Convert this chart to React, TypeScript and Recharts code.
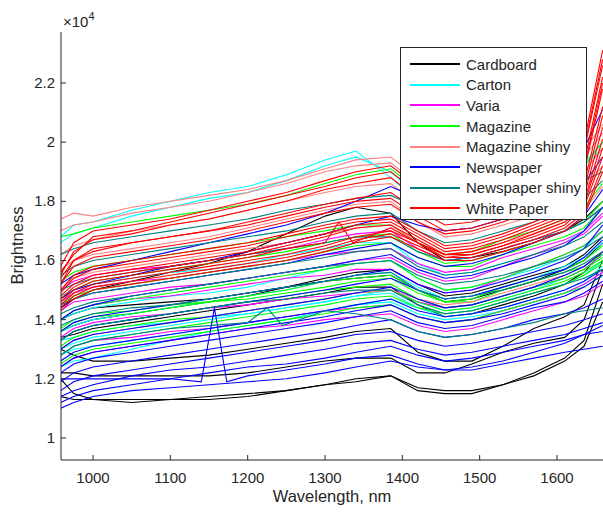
import { LineChart, Line, XAxis, YAxis, Legend } from 'recharts';

// wavelengths (nm) shared by most spectra
const WL = [958, 975, 1000, 1050, 1100, 1150, 1200, 1250, 1300, 1340, 1385, 1420, 1455, 1490, 1530, 1570, 1610, 1635, 1659];

// brightness values, in units of 1e4
const cardboard = [
  [1.44, 1.47, 1.50, 1.53, 1.56, 1.59, 1.63, 1.69, 1.75, 1.78, 1.76, 1.66, 1.60, 1.61, 1.63, 1.66, 1.70, 1.74, 1.80],
  [1.36, 1.38, 1.40, 1.42, 1.44, 1.46, 1.48, 1.51, 1.54, 1.56, 1.57, 1.52, 1.48, 1.49, 1.52, 1.55, 1.58, 1.62, 1.68],
  [1.34, 1.35, 1.37, 1.39, 1.41, 1.43, 1.45, 1.47, 1.49, 1.51, 1.51, 1.45, 1.41, 1.42, 1.45, 1.48, 1.52, 1.56, 1.63],
  [1.30, 1.28, 1.26, 1.26, 1.27, 1.28, 1.30, 1.32, 1.34, 1.36, 1.37, 1.29, 1.26, 1.26, 1.31, 1.37, 1.41, 1.45, 1.60],
  [1.22, 1.22, 1.21, 1.21, 1.21, 1.21, 1.22, 1.24, 1.26, 1.27, 1.27, 1.22, 1.22, 1.25, 1.29, 1.32, 1.34, 1.40, 1.57],
  [1.20, 1.15, 1.13, 1.13, 1.13, 1.14, 1.15, 1.16, 1.18, 1.20, 1.21, 1.17, 1.16, 1.16, 1.18, 1.22, 1.27, 1.33, 1.52],
  [1.14, 1.13, 1.13, 1.12, 1.13, 1.13, 1.14, 1.16, 1.18, 1.19, 1.21, 1.16, 1.15, 1.15, 1.18, 1.21, 1.26, 1.31, 1.46],
  [1.40, 1.42, 1.44, 1.45, 1.46, 1.47, 1.49, 1.51, 1.53, 1.54, 1.55, 1.50, 1.46, 1.47, 1.50, 1.53, 1.57, 1.60, 1.66],
];

const carton = [
  [1.68, 1.72, 1.73, 1.77, 1.80, 1.83, 1.85, 1.89, 1.94, 1.97, 1.88, 1.80, 1.75, 1.77, 1.80, 1.83, 1.87, 1.92, 1.98],
  [1.66, 1.69, 1.71, 1.75, 1.78, 1.81, 1.83, 1.87, 1.92, 1.95, 1.90, 1.82, 1.77, 1.78, 1.81, 1.84, 1.88, 1.93, 2.00],
  [1.48, 1.50, 1.52, 1.54, 1.56, 1.57, 1.59, 1.62, 1.64, 1.66, 1.66, 1.59, 1.55, 1.56, 1.59, 1.62, 1.66, 1.70, 1.78],
  [1.40, 1.42, 1.44, 1.46, 1.48, 1.49, 1.51, 1.54, 1.57, 1.59, 1.60, 1.54, 1.50, 1.51, 1.54, 1.57, 1.61, 1.64, 1.70],
  [1.36, 1.38, 1.40, 1.42, 1.44, 1.46, 1.48, 1.50, 1.53, 1.55, 1.56, 1.51, 1.47, 1.48, 1.51, 1.54, 1.58, 1.61, 1.66],
  [1.33, 1.34, 1.36, 1.38, 1.39, 1.41, 1.42, 1.44, 1.46, 1.48, 1.49, 1.44, 1.42, 1.43, 1.46, 1.49, 1.52, 1.55, 1.60],
  [1.30, 1.32, 1.34, 1.36, 1.38, 1.40, 1.42, 1.44, 1.46, 1.48, 1.50, 1.46, 1.43, 1.44, 1.47, 1.50, 1.54, 1.57, 1.62],
  [1.28, 1.30, 1.31, 1.33, 1.35, 1.37, 1.39, 1.41, 1.43, 1.45, 1.47, 1.44, 1.41, 1.42, 1.44, 1.47, 1.50, 1.53, 1.58],
  [1.24, 1.26, 1.27, 1.30, 1.33, 1.36, 1.38, 1.40, 1.43, 1.45, 1.46, 1.42, 1.40, 1.41, 1.43, 1.46, 1.49, 1.52, 1.56],
];

const varia = [
  [1.50, 1.53, 1.55, 1.57, 1.58, 1.60, 1.62, 1.64, 1.67, 1.69, 1.70, 1.64, 1.60, 1.61, 1.64, 1.67, 1.70, 1.73, 1.78],
  [1.46, 1.49, 1.51, 1.53, 1.54, 1.56, 1.58, 1.60, 1.62, 1.63, 1.64, 1.59, 1.56, 1.57, 1.61, 1.64, 1.67, 1.70, 1.76],
  [1.43, 1.46, 1.47, 1.49, 1.51, 1.52, 1.54, 1.56, 1.58, 1.60, 1.61, 1.56, 1.53, 1.54, 1.58, 1.62, 1.66, 1.69, 1.75],
  [1.40, 1.43, 1.45, 1.47, 1.48, 1.50, 1.52, 1.54, 1.55, 1.57, 1.57, 1.52, 1.49, 1.50, 1.54, 1.58, 1.62, 1.65, 1.70],
  [1.34, 1.37, 1.39, 1.41, 1.42, 1.44, 1.45, 1.47, 1.48, 1.49, 1.50, 1.46, 1.44, 1.45, 1.48, 1.51, 1.54, 1.57, 1.62],
  [1.28, 1.31, 1.33, 1.34, 1.36, 1.37, 1.39, 1.41, 1.43, 1.44, 1.45, 1.41, 1.39, 1.40, 1.43, 1.46, 1.49, 1.52, 1.56],
  [1.24, 1.27, 1.29, 1.31, 1.33, 1.35, 1.37, 1.38, 1.40, 1.41, 1.42, 1.38, 1.36, 1.37, 1.40, 1.43, 1.46, 1.48, 1.52],
];

const magazine = [
  [1.68, 1.69, 1.71, 1.73, 1.75, 1.77, 1.79, 1.82, 1.86, 1.89, 1.91, 1.84, 1.78, 1.79, 1.82, 1.85, 1.88, 1.92, 2.00],
  [1.53, 1.56, 1.58, 1.60, 1.62, 1.64, 1.66, 1.68, 1.70, 1.72, 1.72, 1.66, 1.62, 1.63, 1.67, 1.70, 1.74, 1.78, 1.86],
  [1.47, 1.50, 1.53, 1.55, 1.57, 1.59, 1.61, 1.63, 1.66, 1.68, 1.69, 1.63, 1.59, 1.60, 1.63, 1.66, 1.70, 1.73, 1.80],
  [1.45, 1.48, 1.50, 1.52, 1.54, 1.56, 1.58, 1.60, 1.63, 1.65, 1.66, 1.61, 1.58, 1.58, 1.62, 1.65, 1.68, 1.71, 1.78],
  [1.40, 1.43, 1.45, 1.47, 1.49, 1.51, 1.53, 1.55, 1.57, 1.59, 1.60, 1.54, 1.50, 1.51, 1.54, 1.58, 1.62, 1.65, 1.70],
  [1.37, 1.40, 1.42, 1.43, 1.45, 1.46, 1.48, 1.50, 1.53, 1.54, 1.55, 1.50, 1.46, 1.47, 1.51, 1.54, 1.57, 1.60, 1.65],
  [1.36, 1.39, 1.41, 1.42, 1.44, 1.46, 1.47, 1.49, 1.51, 1.53, 1.54, 1.49, 1.46, 1.46, 1.50, 1.53, 1.56, 1.58, 1.62],
  [1.33, 1.36, 1.38, 1.40, 1.42, 1.44, 1.46, 1.48, 1.50, 1.51, 1.52, 1.47, 1.44, 1.45, 1.48, 1.51, 1.54, 1.57, 1.61],
  [1.31, 1.34, 1.36, 1.38, 1.40, 1.41, 1.43, 1.45, 1.47, 1.49, 1.50, 1.46, 1.43, 1.44, 1.47, 1.50, 1.53, 1.56, 1.60],
  [1.28, 1.31, 1.33, 1.35, 1.37, 1.39, 1.41, 1.43, 1.45, 1.47, 1.48, 1.44, 1.42, 1.43, 1.46, 1.49, 1.52, 1.55, 1.59],
  [1.25, 1.28, 1.30, 1.32, 1.34, 1.36, 1.38, 1.40, 1.42, 1.44, 1.45, 1.41, 1.39, 1.40, 1.43, 1.46, 1.49, 1.51, 1.55],
];

const magazineShiny = [
  [1.74, 1.76, 1.75, 1.78, 1.80, 1.82, 1.84, 1.87, 1.91, 1.94, 1.95, 1.88, 1.82, 1.83, 1.86, 1.89, 1.93, 1.97, 2.06],
  [1.70, 1.72, 1.73, 1.76, 1.78, 1.80, 1.83, 1.86, 1.90, 1.92, 1.93, 1.86, 1.80, 1.81, 1.84, 1.87, 1.91, 1.95, 2.03],
  [1.62, 1.65, 1.67, 1.70, 1.72, 1.74, 1.77, 1.80, 1.83, 1.85, 1.86, 1.79, 1.74, 1.75, 1.78, 1.81, 1.85, 1.90, 1.98],
  [1.57, 1.60, 1.62, 1.64, 1.66, 1.68, 1.71, 1.74, 1.77, 1.79, 1.80, 1.73, 1.68, 1.69, 1.72, 1.75, 1.79, 1.84, 1.92],
  [1.50, 1.54, 1.56, 1.58, 1.60, 1.62, 1.64, 1.66, 1.69, 1.71, 1.72, 1.66, 1.62, 1.63, 1.66, 1.69, 1.73, 1.77, 1.85],
  [1.30, 1.33, 1.35, 1.37, 1.39, 1.41, 1.43, 1.45, 1.47, 1.49, 1.50, 1.47, 1.45, 1.46, 1.49, 1.52, 1.55, 1.58, 1.63],
];

const newspaper = [
  [1.52, 1.55, 1.57, 1.60, 1.63, 1.66, 1.69, 1.72, 1.76, 1.80, 1.85, 1.81, 1.78, 1.79, 1.82, 1.86, 1.91, 1.98, 2.11],
  [1.47, 1.50, 1.52, 1.55, 1.58, 1.60, 1.63, 1.66, 1.69, 1.72, 1.75, 1.72, 1.70, 1.71, 1.74, 1.77, 1.81, 1.86, 1.95],
  [1.44, 1.47, 1.49, 1.51, 1.53, 1.55, 1.57, 1.59, 1.62, 1.64, 1.66, 1.61, 1.58, 1.59, 1.62, 1.66, 1.70, 1.75, 1.84],
  [1.40, 1.43, 1.45, 1.48, 1.50, 1.52, 1.54, 1.56, 1.58, 1.60, 1.62, 1.57, 1.54, 1.55, 1.58, 1.61, 1.65, 1.70, 1.78],
  [1.36, 1.39, 1.41, 1.43, 1.45, 1.47, 1.49, 1.51, 1.53, 1.55, 1.57, 1.52, 1.49, 1.50, 1.53, 1.56, 1.60, 1.64, 1.72],
  [1.33, 1.36, 1.38, 1.40, 1.42, 1.44, 1.46, 1.48, 1.50, 1.52, 1.54, 1.50, 1.47, 1.48, 1.51, 1.54, 1.57, 1.61, 1.67],
  [1.30, 1.33, 1.35, 1.37, 1.39, 1.41, 1.43, 1.45, 1.47, 1.49, 1.51, 1.47, 1.44, 1.45, 1.48, 1.51, 1.55, 1.58, 1.63],
  [1.26, 1.29, 1.31, 1.33, 1.35, 1.37, 1.39, 1.41, 1.43, 1.45, 1.47, 1.43, 1.41, 1.42, 1.44, 1.47, 1.50, 1.53, 1.57],
  [1.24, 1.27, 1.29, 1.31, 1.33, 1.35, 1.37, 1.39, 1.41, 1.43, 1.45, 1.41, 1.39, 1.40, 1.42, 1.45, 1.48, 1.51, 1.55],
  [1.22, 1.25, 1.27, 1.29, 1.31, 1.33, 1.35, 1.37, 1.39, 1.41, 1.43, 1.39, 1.37, 1.38, 1.41, 1.44, 1.46, 1.49, 1.53],
  [1.19, 1.22, 1.24, 1.26, 1.28, 1.30, 1.32, 1.34, 1.36, 1.38, 1.40, 1.36, 1.34, 1.35, 1.37, 1.40, 1.42, 1.44, 1.47],
  [1.16, 1.19, 1.21, 1.23, 1.25, 1.27, 1.29, 1.31, 1.33, 1.35, 1.36, 1.33, 1.31, 1.32, 1.34, 1.36, 1.38, 1.40, 1.42],
  [1.14, 1.16, 1.18, 1.21, 1.23, 1.24, 1.26, 1.28, 1.30, 1.32, 1.33, 1.30, 1.28, 1.29, 1.31, 1.33, 1.35, 1.37, 1.39],
  [1.12, 1.14, 1.16, 1.18, 1.20, 1.22, 1.24, 1.25, 1.27, 1.29, 1.31, 1.28, 1.26, 1.27, 1.29, 1.31, 1.33, 1.35, 1.36],
  [1.10, 1.12, 1.14, 1.16, 1.17, 1.18, 1.19, 1.20, 1.22, 1.24, 1.26, 1.24, 1.23, 1.23, 1.25, 1.27, 1.29, 1.30, 1.31],
];

const newspaperShiny = [
  [1.62, 1.64, 1.66, 1.68, 1.70, 1.72, 1.74, 1.77, 1.79, 1.81, 1.82, 1.78, 1.74, 1.75, 1.78, 1.81, 1.84, 1.87, 1.90],
  [1.55, 1.58, 1.60, 1.62, 1.64, 1.66, 1.68, 1.70, 1.73, 1.75, 1.76, 1.70, 1.66, 1.67, 1.70, 1.73, 1.77, 1.81, 1.87],
  [1.50, 1.52, 1.54, 1.56, 1.58, 1.60, 1.62, 1.64, 1.66, 1.68, 1.68, 1.63, 1.60, 1.61, 1.64, 1.67, 1.70, 1.73, 1.78],
  [1.45, 1.47, 1.49, 1.51, 1.53, 1.55, 1.57, 1.59, 1.61, 1.63, 1.64, 1.58, 1.55, 1.56, 1.59, 1.62, 1.65, 1.68, 1.73],
  [1.42, 1.44, 1.46, 1.48, 1.50, 1.52, 1.54, 1.56, 1.58, 1.59, 1.60, 1.55, 1.52, 1.53, 1.55, 1.58, 1.61, 1.64, 1.68],
  [1.38, 1.40, 1.42, 1.44, 1.45, 1.47, 1.49, 1.51, 1.53, 1.55, 1.56, 1.50, 1.47, 1.48, 1.50, 1.53, 1.56, 1.59, 1.63],
  [1.33, 1.36, 1.38, 1.40, 1.42, 1.44, 1.46, 1.47, 1.49, 1.50, 1.50, 1.45, 1.42, 1.43, 1.46, 1.49, 1.52, 1.54, 1.57],
];

const whitePaper = [
  [1.58, 1.66, 1.70, 1.72, 1.74, 1.77, 1.80, 1.83, 1.87, 1.90, 1.92, 1.85, 1.79, 1.80, 1.83, 1.87, 1.92, 2.00, 2.31],
  [1.56, 1.62, 1.68, 1.70, 1.73, 1.76, 1.79, 1.82, 1.85, 1.88, 1.90, 1.83, 1.78, 1.79, 1.82, 1.86, 1.90, 1.98, 2.28],
  [1.55, 1.63, 1.67, 1.69, 1.72, 1.74, 1.77, 1.80, 1.84, 1.86, 1.88, 1.81, 1.76, 1.77, 1.80, 1.84, 1.89, 1.97, 2.26],
  [1.54, 1.60, 1.63, 1.66, 1.68, 1.70, 1.73, 1.76, 1.79, 1.81, 1.83, 1.77, 1.72, 1.73, 1.76, 1.80, 1.85, 1.93, 2.22],
  [1.52, 1.60, 1.64, 1.66, 1.68, 1.70, 1.72, 1.75, 1.78, 1.80, 1.81, 1.75, 1.70, 1.71, 1.74, 1.78, 1.83, 1.91, 2.20],
  [1.52, 1.58, 1.61, 1.63, 1.65, 1.67, 1.70, 1.73, 1.76, 1.78, 1.79, 1.73, 1.69, 1.70, 1.73, 1.77, 1.82, 1.90, 2.18],
  [1.50, 1.55, 1.58, 1.60, 1.62, 1.64, 1.66, 1.69, 1.72, 1.74, 1.75, 1.70, 1.65, 1.66, 1.69, 1.73, 1.78, 1.86, 2.12],
  [1.49, 1.54, 1.57, 1.59, 1.61, 1.63, 1.65, 1.68, 1.71, 1.73, 1.74, 1.69, 1.64, 1.65, 1.68, 1.72, 1.76, 1.84, 2.09],
  [1.48, 1.52, 1.55, 1.57, 1.59, 1.61, 1.63, 1.66, 1.69, 1.72, 1.73, 1.68, 1.63, 1.64, 1.67, 1.71, 1.75, 1.82, 2.05],
  [1.47, 1.51, 1.54, 1.56, 1.58, 1.60, 1.62, 1.65, 1.68, 1.71, 1.72, 1.67, 1.62, 1.63, 1.66, 1.70, 1.74, 1.80, 2.01],
  [1.45, 1.49, 1.52, 1.54, 1.56, 1.58, 1.60, 1.62, 1.65, 1.68, 1.70, 1.66, 1.61, 1.62, 1.65, 1.68, 1.72, 1.78, 1.95],
  [1.44, 1.48, 1.51, 1.53, 1.55, 1.57, 1.59, 1.61, 1.64, 1.67, 1.69, 1.65, 1.61, 1.61, 1.64, 1.67, 1.71, 1.76, 1.92],
  [1.43, 1.47, 1.50, 1.52, 1.54, 1.56, 1.58, 1.60, 1.63, 1.66, 1.68, 1.64, 1.60, 1.60, 1.63, 1.66, 1.70, 1.75, 1.90],
];

// spectra with a single-sample spike, on their own wavelength grids
const spikeNewsWL = [958, 975, 1000, 1050, 1100, 1140, 1157, 1173, 1200, 1250, 1300, 1340, 1385, 1420, 1455, 1490, 1530, 1570, 1610, 1635, 1659];
const spikeNews = [1.20, 1.20, 1.20, 1.20, 1.20, 1.19, 1.44, 1.19, 1.21, 1.23, 1.25, 1.27, 1.28, 1.25, 1.23, 1.24, 1.26, 1.29, 1.32, 1.35, 1.38];
const spikeShinyWL = [958, 975, 1000, 1050, 1100, 1150, 1200, 1225, 1245, 1300, 1340, 1385, 1420, 1455, 1490, 1530, 1570, 1610, 1635, 1659];
const spikeShiny = [1.28, 1.31, 1.33, 1.35, 1.37, 1.38, 1.39, 1.44, 1.38, 1.43, 1.42, 1.40, 1.36, 1.34, 1.35, 1.37, 1.39, 1.42, 1.43, 1.44];
const spikeWhiteWL = [958, 975, 1000, 1050, 1100, 1150, 1200, 1250, 1300, 1318, 1336, 1385, 1420, 1455, 1490, 1530, 1570, 1610, 1635, 1659];
const spikeWhite = [1.46, 1.50, 1.53, 1.55, 1.57, 1.59, 1.61, 1.64, 1.66, 1.73, 1.66, 1.71, 1.66, 1.62, 1.62, 1.65, 1.69, 1.73, 1.79, 1.98];

const Y_TICKS = [1, 1.2, 1.4, 1.6, 1.8, 2, 2.2];
const X_TICKS = [1000, 1100, 1200, 1300, 1400, 1500, 1600];

const toPts = (wl: number[], v: number[]) => wl.map((x, i) => ({ x, y: v[i] }));

const groups = [
  { name: 'Cardboard', color: '#000000', lines: cardboard.map(v => toPts(WL, v)) },
  { name: 'Carton', color: '#00ffff', lines: carton.map(v => toPts(WL, v)) },
  { name: 'Varia', color: '#ff00ff', lines: varia.map(v => toPts(WL, v)) },
  { name: 'Magazine', color: '#00ff00', lines: magazine.map(v => toPts(WL, v)) },
  { name: 'Magazine shiny', color: '#ff8080', lines: magazineShiny.map(v => toPts(WL, v)) },
  { name: 'Newspaper', color: '#0000ff', lines: [...newspaper.map(v => toPts(WL, v)), toPts(spikeNewsWL, spikeNews)] },
  { name: 'Newspaper shiny', color: '#008080', lines: [...newspaperShiny.map(v => toPts(WL, v)), toPts(spikeShinyWL, spikeShiny)] },
  { name: 'White Paper', color: '#ff0000', lines: [...whitePaper.map(v => toPts(WL, v)), toPts(spikeWhiteWL, spikeWhite)] },
];

const FONT = '"Liberation Sans", Arial, Helvetica, sans-serif';
const INK = '#262626';

const YTick = ({ x, y, payload }: any) => (
  <g>
    <line x1={x} x2={x + 5} y1={y} y2={y} stroke={INK} />
    <text x={x - 6} y={y} dy={5} textAnchor="end" fontSize={15} fontFamily={FONT} fill={INK}>
      {payload.value}
    </text>
  </g>
);

const XTick = ({ x, y, payload }: any) => (
  <g>
    <line x1={x} x2={x} y1={y} y2={y - 5} stroke={INK} />
    <text x={x} y={y + 23} textAnchor="middle" fontSize={15} fontFamily={FONT} fill={INK}>
      {payload.value}
    </text>
  </g>
);

const LegendBox = () => (
  <div style={styles.legend}>
    {groups.map(g => (
      <div key={g.name} style={styles.legendRow}>
        <span style={{ ...styles.swatch, background: g.color }} />
        <span>{g.name}</span>
      </div>
    ))}
  </div>
);

const App = () => (
  <div style={styles.page}>
    <LineChart width={603} height={516} margin={{ top: 32, right: 0, bottom: 0, left: 0 }}>
      <XAxis
        type="number"
        dataKey="x"
        domain={[958.6, 1659.5]}
        allowDataOverflow
        ticks={X_TICKS}
        height={56}
        tickSize={0}
        tickMargin={0}
        tick={<XTick />}
        stroke={INK}
      />
      <YAxis
        type="number"
        dataKey="y"
        domain={[0.9256, 2.3724]}
        allowDataOverflow
        ticks={Y_TICKS}
        width={61}
        tickSize={0}
        tickMargin={0}
        tick={<YTick />}
        stroke={INK}
      />
      {groups.map(g =>
        g.lines.map((pts, i) => (
          <Line
            key={g.name + i}
            data={pts}
            dataKey="y"
            name={g.name}
            stroke={g.color}
            strokeWidth={1.1}
            dot={false}
            legendType="none"
            isAnimationActive={false}
          />
        ))
      )}
      <Legend
        layout="vertical"
        align="center"
        verticalAlign="middle"
        content={<LegendBox />}
        wrapperStyle={{ left: 400, top: 47, width: 187, height: 173 }}
      />
    </LineChart>
    <div style={styles.xLabel}>Wavelength, nm</div>
    <div style={styles.yLabel}>Brightness</div>
    <div style={styles.exponent}>
      <span style={{ fontSize: '15px' }}>×10</span>
      <span style={{ fontSize: '11px', position: 'relative', top: -7 }}>4</span>
    </div>
  </div>
);

const styles: any = {
  page: { position: 'absolute', left: 0, top: 0, width: 603, height: 516, background: '#fff' },
  legend: {
    boxSizing: 'border-box', width: 187, height: 173, background: '#fff', border: '1px solid #262626',
    padding: '6px 0 0 9px', fontFamily: FONT, fontSize: 15, color: INK,
  },
  legendRow: { display: 'flex', alignItems: 'center', height: 20.6 },
  swatch: { display: 'inline-block', width: 50, height: 2, marginRight: 6 },
  xLabel: {
    position: 'absolute', left: 232, top: 487, width: 200, textAlign: 'center',
    fontFamily: FONT, fontSize: 16.5, lineHeight: '19px', color: INK,
  },
  yLabel: {
    position: 'absolute', left: -83, top: 236, width: 200, textAlign: 'center', transform: 'rotate(-90deg)',
    fontFamily: FONT, fontSize: 16.5, lineHeight: '19px', color: INK,
  },
  exponent: {
    position: 'absolute', left: 63, top: 13, fontFamily: FONT, lineHeight: '18px', color: INK, whiteSpace: 'nowrap',
  },
};

export default App;
